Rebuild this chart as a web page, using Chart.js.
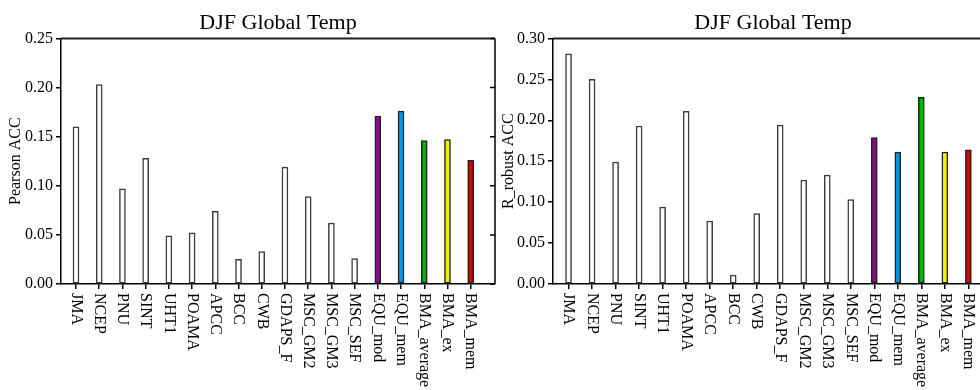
<!DOCTYPE html>
<html>
<head>
<meta charset="utf-8">
<script src="https://cdn.jsdelivr.net/npm/chart.js@4"></script>
<style>
  body { margin: 0; width: 980px; height: 390px; overflow: hidden; background: #fff; position: relative; }
  .box { position: absolute; top: 0; height: 390px; }
  #boxA { left: 0; width: 500px; }
  #boxB { left: 498px; width: 500px; }
</style>
</head>
<body>
<div class="box" id="boxA"><canvas id="pearson"></canvas></div>
<div class="box" id="boxB"><canvas id="robust"></canvas></div>
<script>
// Modelos / categorias
const modelos = ['JMA', 'NCEP', 'PNU', 'SINT', 'UHT1', 'POAMA', 'APCC', 'BCC', 'CWB', 'GDAPS_F',
    'MSC_GM2', 'MSC_GM3', 'MSC_SEF', 'EQU_mod', 'EQU_mem', 'BMA_average', 'BMA_ex', 'BMA_mem'];

// Valores
const pearsonAcc = [0.160, 0.203, 0.097, 0.128, 0.049, 0.052, 0.074, 0.025, 0.033, 0.119,
    0.089, 0.062, 0.026, 0.171, 0.176, 0.146, 0.147, 0.126];
const robustAcc = [0.281, 0.250, 0.149, 0.193, 0.094, 0.211, 0.077, 0.011, 0.086, 0.194,
    0.127, 0.133, 0.103, 0.179, 0.161, 0.228, 0.161, 0.164];

// Cores das barras
const coresBarras = ['#ffffff', '#ffffff', '#ffffff', '#ffffff', '#ffffff', '#ffffff', '#ffffff', '#ffffff', '#ffffff',
    '#ffffff', '#ffffff', '#ffffff', '#ffffff', '#8c0a8c', '#0096dc', '#00b400', '#f2f200', '#dc0000'];
const coresBorda = coresBarras.map(c => c === '#ffffff' ? '#3c3c3c' : '#222222');

const fonteSerif = 'Liberation Serif';

// Eixos extras: borda superior/direita e rótulos girados
const molduraPlugin = {
    id: 'moldura',
    afterDraw(chart) {
        const ctx = chart.ctx;
        const a = chart.chartArea;
        const y = chart.scales.y;
        const x = chart.scales.x;
        ctx.save();
        ctx.strokeStyle = '#222';
        ctx.lineWidth = 2;
        ctx.beginPath();
        ctx.moveTo(a.left, a.top);
        ctx.lineTo(a.right, a.top);
        ctx.stroke();
        ctx.lineWidth = 1.5;
        ctx.strokeStyle = '#000';
        ctx.beginPath();
        ctx.moveTo(a.right, a.top);
        ctx.lineTo(a.right, a.bottom);
        y.ticks.forEach(t => {
            const py = y.getPixelForValue(t.value);
            ctx.moveTo(a.right, py);
            ctx.lineTo(a.right - 5, py);
        });
        ctx.stroke();
        ctx.fillStyle = '#000';
        ctx.font = '16px "' + fonteSerif + '"';
        ctx.textAlign = 'left';
        ctx.textBaseline = 'middle';
        modelos.forEach((m, i) => {
            const px = x.getPixelForValue(i);
            ctx.save();
            ctx.translate(px, a.bottom + 9);
            ctx.rotate(Math.PI / 2);
            ctx.fillText(m, 0, 0);
            ctx.restore();
        });
        ctx.restore();
    }
};

function criarGrafico(id, valores, titulo, rotuloY, maxY, larguraY, xMin, xMax, padTitulo) {
    const ctx = document.getElementById(id).getContext('2d');
    return new Chart(ctx, {
        type: 'bar',
        data: {
            datasets: [{
                label: rotuloY,
                data: valores.map((v, i) => ({ x: i, y: v })),
                backgroundColor: coresBarras,
                borderColor: coresBorda,
                borderWidth: 1.5,
                borderSkipped: false,
                barThickness: 6,
            }]
        },
        options: {
            responsive: true,
            maintainAspectRatio: false,
            animation: false,
            layout: { padding: { left: 0, right: 5, top: 0, bottom: 0 } },
            plugins: {
                legend: { display: false },
                tooltip: { enabled: false },
                title: {
                    display: true,
                    text: titulo,
                    fullSize: false,
                    color: '#000',
                    font: { family: fonteSerif, size: 22, weight: 'normal' },
                    padding: { top: 10, bottom: 2 },
                },
            },
            scales: {
                x: {
                    type: 'linear',
                    offset: false,
                    min: xMin,
                    max: xMax,
                    afterBuildTicks: s => { s.ticks = modelos.map((m, i) => ({ value: i })); },
                    afterFit: s => { s.height = 106; },
                    ticks: { display: false },
                    grid: { offset: false, drawOnChartArea: false, drawTicks: true, tickLength: 5, color: '#000', lineWidth: 1.5 },
                    border: { color: '#000', width: 1.5 },
                },
                y: {
                    min: 0,
                    max: maxY,
                    afterFit: s => { s.width = larguraY; },
                    ticks: {
                        stepSize: 0.05,
                        color: '#000',
                        padding: 3,
                        font: { family: fonteSerif, size: 16 },
                        callback: v => v.toFixed(2),
                    },
                    grid: { drawOnChartArea: false, drawTicks: true, tickLength: 5, color: '#000', lineWidth: 1.5 },
                    border: { color: '#000', width: 1.5 },
                    title: {
                        display: true,
                        text: rotuloY,
                        color: '#000',
                        font: { family: fonteSerif, size: 16 },
                        padding: { top: padTitulo, bottom: 0 },
                    },
                },
            },
        },
        plugins: [molduraPlugin],
    });
}

criarGrafico('pearson', pearsonAcc, 'DJF Global Temp', 'Pearson ACC', 0.25, 61, -0.646, 18.047, 6);
criarGrafico('robust', robustAcc, 'DJF Global Temp', 'R_robust ACC', 0.30, 55, -0.661, 18.047, 1);
</script>
</body>
</html>
